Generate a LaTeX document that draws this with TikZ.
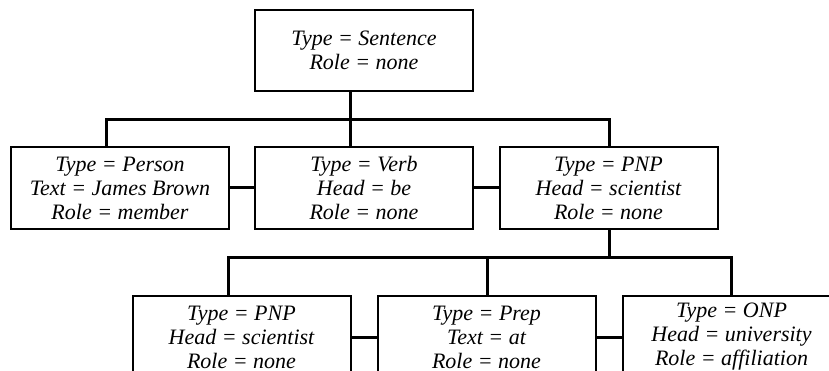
\documentclass[tikz,border=0pt]{standalone}
\usepackage{fontspec}
\setmainfont{Liberation Serif}
\begin{document}
\begin{tikzpicture}[x=1pt,y=-1pt,
  featbox/.style={draw=black, line width=2pt, fill=white, rectangle,
    minimum width=218pt, minimum height=82pt, inner sep=0pt, align=center,
    font=\fontsize{22}{24}\selectfont\itshape},
  conn/.style={draw=black, line width=3pt, line cap=rect}]
  \clip (0,0) rectangle (829,371);
  \fill[white] (0,0) rectangle (829,371);

  % root
  \node[featbox, minimum height=81pt] (sent) at (364,50.5) {Type = Sentence\\Role = none};

  % second level
  \node[featbox] (person) at (120,188) {Type = Person\\Text = James Brown\\Role = member};
  \node[featbox] (verb)   at (364,188) {Type = Verb\\Head = be\\Role = none};
  \node[featbox] (pnp)    at (608.5,188) {Type = PNP\\Head = scientist\\Role = none};

  % third level
  \node[featbox] (pnpb) at (241.5,337) {Type = PNP\\Head = scientist\\Role = none};
  \node[featbox] (prep) at (486.5,337) {Type = Prep\\Text = at\\Role = none};
  \node[featbox] (onp)  at (731.5,337) {Type = ONP\\Head = university\\Role = affiliation};

  % bus below the root
  \coordinate (busA)  at (350,120);
  \coordinate (busAL) at (106,120);
  \coordinate (busAR) at (609,120);
  \draw[conn] (sent.south -| busA) -- (busA);
  \draw[conn] (person.north -| busAL) -- (busAL) -- (busAR) -- (pnp.north -| busAR);
  \draw[conn] (busA) -- (verb.north -| busA);

  % bus below the PNP node
  \coordinate (busB)  at (609,257);
  \coordinate (busBL) at (228,257);
  \coordinate (busBM) at (487,257);
  \coordinate (busBR) at (731,257);
  \draw[conn] (pnp.south -| busB) -- (busB);
  \draw[conn] (pnpb.north -| busBL) -- (busBL) -- (busBR) -- (onp.north -| busBR);
  \draw[conn] (busBM) -- (prep.north -| busBM);

  % links between siblings
  \draw[conn, line cap=butt] (person.east) -- (verb.west);
  \draw[conn, line cap=butt] (verb.east) -- (pnp.west);
  \draw[conn, line cap=butt] (pnpb.east) -- (prep.west);
  \draw[conn, line cap=butt] (prep.east) -- (onp.west);
\end{tikzpicture}
\end{document}
